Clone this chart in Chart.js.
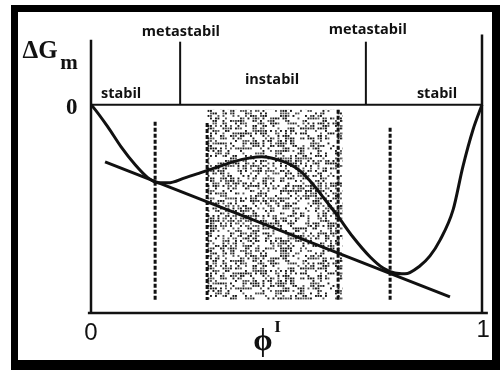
<!DOCTYPE html>
<html>
<head>
<meta charset="utf-8">
<script src="https://cdn.jsdelivr.net/npm/chart.js@4.4.1/dist/chart.umd.min.js"></script>
<style>
  html, body { margin: 0; padding: 0; background: #fff; }
  #wrap { position: relative; width: 500px; height: 370px; }
  #frame {
    position: absolute; left: 11px; top: 5px; width: 474px; height: 348px;
    border-left: 7px solid #000; border-top: 7px solid #000;
    border-right: 8px solid #000; border-bottom: 10px solid #000;
    pointer-events: none;
  }
</style>
</head>
<body>
<div id="wrap">
  <canvas id="chart" width="500" height="370"></canvas>
  <div id="frame"></div>
</div>
<script>
// Mixing free energy curve ΔG_m(ϕ)
const curvePhi = [0, 0.005, 0.043, 0.077, 0.113, 0.146, 0.171, 0.197, 0.240, 0.279, 0.317, 0.363,
  0.407, 0.437, 0.471, 0.501, 0.535, 0.560, 0.593, 0.629, 0.670, 0.714, 0.747, 0.777, 0.803,
  0.841, 0.867, 0.893, 0.926, 0.951, 0.977, 1];
const curveG = [0, -0.010, -0.106, -0.202, -0.288, -0.351, -0.375, -0.375, -0.351, -0.327, -0.303, -0.274,
  -0.255, -0.250, -0.260, -0.279, -0.317, -0.365, -0.442, -0.529, -0.635, -0.731, -0.784, -0.808, -0.812,
  -0.774, -0.726, -0.649, -0.505, -0.298, -0.120, 0];

// common tangent
const tangentPhi = [0.036, 0.918];
const tangentG = [-0.274, -0.923];

// binodal / spinodal dashed lines
const binodalPhi = [0.164, 0.765];
const spinodalPhi = [0.297, 0.632];
const binodalTopG = [-0.082, -0.110];
const spinodalTopG = [-0.087, -0.024];
const dashBottomG = -0.9375;

// region boundaries on the zero line
const metaPhi = [0.228, 0.703];
const metaTopG = 0.303;

// axis extents
const yAxisTop = 0.3125;
const rightLineTop = 0.337;
const xAxisRange = [-0.008, 1.015];

const labelFont = 'bold 14.5px "Open Sans"';
const labels = [
  { text: 'metastabil', x: 0.230, y: 0.351, font: labelFont },
  { text: 'metastabil', x: 0.708, y: 0.361, font: labelFont },
  { text: 'stabil', x: 0.077, y: 0.053, font: labelFont },
  { text: 'instabil', x: 0.463, y: 0.120, font: labelFont },
  { text: 'stabil', x: 0.885, y: 0.053, font: labelFont },
  { text: '0', x: -0.049, y: -0.014, font: 'bold 23px "Liberation Serif"' },
  { text: '0', x: 0, y: -1.096, font: '24px "Liberation Sans"' },
  { text: '1', x: 1.003, y: -1.082, font: '24px "Liberation Sans"' },
  { text: 'ϕ', x: 0.440, y: -1.140, font: 'bold 31px "Liberation Serif"' },
  { text: 'I', x: 0.477, y: -1.072, font: 'bold 17px "Liberation Serif"' },
  { text: 'ΔG', x: -0.130, y: 0.255, font: 'bold 25px "Liberation Serif"' },
  { text: 'm', x: -0.056, y: 0.200, font: 'bold 21px "Liberation Serif"' }
];

const INK = '#111';

// stipple texture for the unstable region
function hash(i, j) {
  let h = (i * 374761393 + j * 668265263) | 0;
  h = Math.imul(h ^ (h >>> 13), 1274126177);
  return ((h ^ (h >>> 16)) >>> 0) % 1000;
}
function makeStipple() {
  const c = document.createElement('canvas');
  c.width = 140; c.height = 140;
  const g = c.getContext('2d');
  for (let i = 0; i < 56; i++) {
    for (let j = 0; j < 56; j++) {
      const v = hash(i, j);
      if (v < 480) {
        g.fillStyle = v < 260 ? '#1a1a1a' : '#555';
        g.fillRect(i * 2.5, j * 2.5, 1.9, 1.9);
      }
    }
  }
  return g.createPattern(c, 'repeat');
}

function seg(x0, y0, x1, y1) {
  return [{ x: x0, y: y0 }, { x: x1, y: y1 }];
}

const lineBase = { showLine: true, pointRadius: 0, fill: false, borderColor: INK, clip: false };

const datasets = [];

// stippled region between the spinodals
datasets.push({
  ...lineBase,
  data: seg(spinodalPhi[0], spinodalTopG[1], spinodalPhi[1] + 0.012, spinodalTopG[1]),
  borderWidth: 0,
  fill: { value: dashBottomG },
  backgroundColor: makeStipple()
});

// dashed vertical lines
const dashStyle = { borderWidth: 3, borderDash: [4, 2] };
binodalPhi.forEach((p, i) => datasets.push({
  ...lineBase, ...dashStyle, data: seg(p, binodalTopG[i], p, dashBottomG)
}));
spinodalPhi.forEach((p, i) => datasets.push({
  ...lineBase, ...dashStyle, data: seg(p, spinodalTopG[i], p, dashBottomG)
}));

// axes and frame lines
datasets.push({ ...lineBase, data: seg(0, -1, 0, yAxisTop), borderWidth: 2.5 });
datasets.push({ ...lineBase, data: seg(xAxisRange[0], -1, xAxisRange[1], -1), borderWidth: 2.5 });
datasets.push({ ...lineBase, data: seg(1, -1, 1, rightLineTop), borderWidth: 2.5 });
datasets.push({ ...lineBase, data: seg(0, 0, 1, 0), borderWidth: 2 });
metaPhi.forEach(p => datasets.push({ ...lineBase, data: seg(p, 0, p, metaTopG), borderWidth: 2 }));

// tangent and free energy curve
datasets.push({ ...lineBase, data: seg(tangentPhi[0], tangentG[0], tangentPhi[1], tangentG[1]), borderWidth: 3 });
datasets.push({
  ...lineBase,
  data: curvePhi.map((p, i) => ({ x: p, y: curveG[i] })),
  borderWidth: 3,
  cubicInterpolationMode: 'monotone'
});

// later datasets on top
datasets.forEach((d, i) => { d.order = datasets.length - i; });

const textPlugin = {
  id: 'texts',
  afterDraw(chart) {
    const ctx = chart.ctx;
    const xs = chart.scales.x, ys = chart.scales.y;
    ctx.save();
    ctx.fillStyle = INK;
    ctx.textAlign = 'center';
    ctx.textBaseline = 'middle';
    labels.forEach(l => {
      ctx.font = l.font;
      ctx.fillText(l.text, xs.getPixelForValue(l.x), ys.getPixelForValue(l.y));
    });
    ctx.restore();
  }
};

new Chart(document.getElementById('chart').getContext('2d'), {
  type: 'scatter',
  data: { datasets: datasets },
  options: {
    responsive: false,
    animation: false,
    layout: { padding: { left: 91, right: 18, top: 34, bottom: 57 } },
    scales: {
      x: { type: 'linear', min: 0, max: 1, display: false },
      y: { type: 'linear', min: -1, max: 0.34, display: false }
    },
    plugins: {
      legend: { display: false },
      tooltip: { enabled: false }
    }
  },
  plugins: [textPlugin]
});
</script>
</body>
</html>
